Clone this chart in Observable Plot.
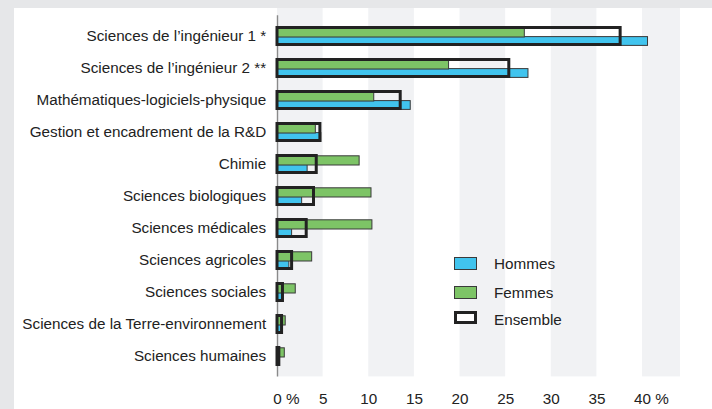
<!DOCTYPE html>
<html>
<head>
<meta charset="utf-8">
<script src="https://cdn.jsdelivr.net/npm/d3@7"></script>
<script src="https://cdn.jsdelivr.net/npm/@observablehq/plot@0.6"></script>
<style>
  html, body { margin: 0; padding: 0; }
  body { width: 712px; height: 409px; background: #e6e7e9; position: relative; overflow: hidden;
         font-family: "Liberation Sans", Arial, sans-serif; }
  #panel { position: absolute; left: 14px; top: 8px; right: 0; bottom: 0; background: #ffffff; }
  #chart { position: absolute; left: 0; top: 0; }
  #chart svg { background: transparent !important; }
  .sw { position: absolute; box-sizing: border-box; width: 23px; }
  .lt { position: absolute; font-size: 15.25px; color: #222; line-height: 18px; white-space: nowrap; }
</style>
</head>
<body>
<div id="panel"></div>
<div id="chart"></div>
<div id="legend"></div>
<script>
const categories = [
  "Sciences de l’ingénieur 1 *",
  "Sciences de l’ingénieur 2 **",
  "Mathématiques-logiciels-physique",
  "Gestion et encadrement de la R&D",
  "Chimie",
  "Sciences biologiques",
  "Sciences médicales",
  "Sciences agricoles",
  "Sciences sociales",
  "Sciences de la Terre-environnement",
  "Sciences humaines"
];
const hommes   = [40.6, 27.5, 14.6, 4.8, 3.3, 2.7, 1.6, 1.3, 0.5, 0.5, 0.0];
const femmes   = [27.1, 18.8, 10.6, 4.2, 9.0, 10.3, 10.4, 3.8, 2.0, 0.9, 0.8];
const ensemble = [37.6, 25.4, 13.5, 4.7, 4.3, 4.0, 3.2, 1.6, 0.6, 0.5, 0.2];
const xTicks = [0, 5, 10, 15, 20, 25, 30, 35, 40];
const stripeStarts = [0, 10, 20, 30, 40];
const xMax = 44.16;
const seriesNames = ["Hommes", "Femmes", "Ensemble"];
const colors = {Hommes: "#41c4ee", Femmes: "#7dc466", Ensemble: "#ffffff"};

const data = categories.map((c, i) => ({cat: c, h: hommes[i], f: femmes[i], e: ensemble[i]}));

const font = "'Liberation Sans', Arial, sans-serif";

const chart = Plot.plot({
  width: 712,
  height: 409,
  marginLeft: 277,
  marginRight: 32,
  marginTop: 8,
  marginBottom: 32.6,
  style: {fontFamily: font, fontSize: "15.25px", color: "#222", background: "transparent"},
  x: {domain: [0, xMax]},
  y: {domain: categories, range: [8.9, 382.5], padding: 0.39},
  marks: [
    Plot.rect(stripeStarts, {x1: d => d, x2: d => Math.min(d + 5, xMax), fill: "#f1f2f4"}),
    Plot.ruleX([0], {stroke: "#8a8a8a", strokeWidth: 1.4, insetTop: 7.3}),
    Plot.barX(data, {x: "h", y: "cat", fill: colors.Hommes, stroke: "#3a3a3a", strokeWidth: 1, insetTop: 10.6, insetBottom: 0.6}),
    Plot.barX(data, {x: "f", y: "cat", fill: colors.Femmes, stroke: "#3a3a3a", strokeWidth: 1, insetTop: 1.8, insetBottom: 9}),
    Plot.barX(data, {x: "e", y: "cat", fill: "none", stroke: "#222", strokeWidth: 3, insetTop: 1.5, insetBottom: 1.5}),
    Plot.axisY({tickSize: 0, tickPadding: 11.3, fontSize: "15.25px", fill: "#222", label: null}),
    Plot.axisX({ticks: xTicks, tickSize: 0, tickPadding: 16.6, tickFormat: d => String(d), fontSize: "15.25px", fill: "#222", label: null}),
    Plot.text([0], {x: d => d, text: () => "%", frameAnchor: "bottom", lineAnchor: "top", textAnchor: "start", dx: 8.5, dy: 16.6, fontSize: "15.25px", fill: "#222"}),
    Plot.text([40], {x: d => d, text: () => "%", frameAnchor: "bottom", lineAnchor: "top", textAnchor: "start", dx: 12.7, dy: 16.6, fontSize: "15.25px", fill: "#222"})
  ]
});
document.getElementById("chart").appendChild(chart);

// Legend
const legend = document.getElementById("legend");
const legendTops = [256.7, 285.7, 310.7];
const textCenters = [264, 292.5, 319.5];
seriesNames.forEach((name, i) => {
  const sw = document.createElement("div");
  sw.className = "sw";
  sw.style.left = "454px";
  sw.style.top = legendTops[i] + "px";
  sw.style.height = (name === "Ensemble" ? 13.6 : 13.3) + "px";
  sw.style.background = colors[name];
  sw.style.border = name === "Ensemble" ? "3px solid #222" : "1px solid #3a3a3a";
  legend.appendChild(sw);
  const t = document.createElement("div");
  t.className = "lt";
  t.style.left = "494px";
  t.style.top = (textCenters[i] - 9) + "px";
  t.textContent = name;
  legend.appendChild(t);
});
</script>
</body>
</html>
